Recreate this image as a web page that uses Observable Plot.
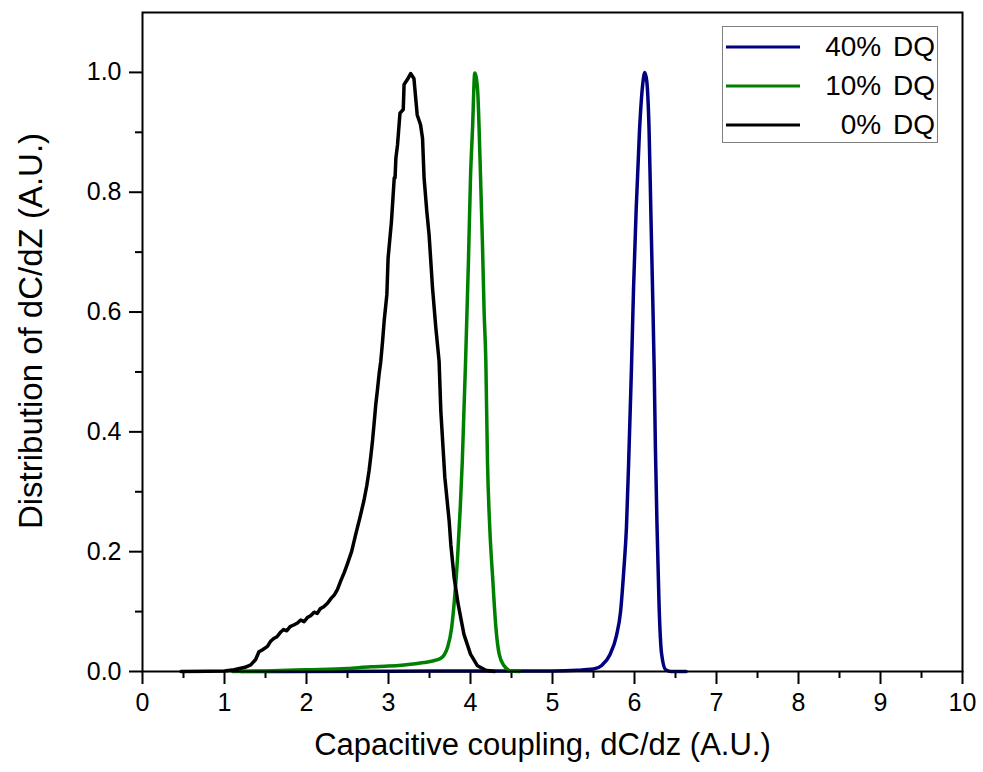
<!DOCTYPE html>
<html>
<head>
<meta charset="utf-8">
<script src="https://cdn.jsdelivr.net/npm/d3@7"></script>
<script src="https://cdn.jsdelivr.net/npm/@observablehq/plot@0.6"></script>
<style>
  html, body { margin: 0; padding: 0; background: #fff; }
  #wrap { position: relative; width: 983px; height: 772px; font-family: Arial, "Liberation Sans", sans-serif; }
  #wrap svg g[aria-label$="tick"] path { stroke-width: 2px; }
  #wrap svg g[aria-label="frame"] rect, #wrap svg rect[aria-label="frame"] { stroke-width: 2px; }
  #legend { position: absolute; left: 722px; top: 26px; width: 216px; height: 117px; border: 1px solid #808080; box-sizing: border-box; background: #fff; }
  .row { position: absolute; left: 3px; right: 2px; height: 32px; display: flex; align-items: center; justify-content: space-between; font-size: 28px; word-spacing: 4px; color: #000; }
  .row svg { display: block; }
</style>
</head>
<body>
<div id="wrap"></div>
<script>
// ---- data ----
const seriesNames = ["40% DQ", "10% DQ", "0% DQ"];
const seriesColors = ["#000080", "#008000", "#000000"];

const blueX = [1.2, 3.0, 4.5, 5.0, 5.3, 5.5, 5.6, 5.7, 5.78, 5.83, 5.87, 5.902, 5.934, 5.963, 5.988, 6.02, 6.061, 6.1, 6.126, 6.15, 6.178, 6.199, 6.22, 6.24, 6.255, 6.275, 6.30, 6.33, 6.38, 6.45, 6.63];
const blueY = [0, 0.0005, 0.001, 0.001, 0.002, 0.004, 0.01, 0.028, 0.06, 0.1, 0.17, 0.241, 0.373, 0.506, 0.638, 0.77, 0.903, 0.98, 1.0, 0.985, 0.903, 0.77, 0.638, 0.506, 0.373, 0.241, 0.109, 0.03, 0.003, 0, 0];

const greenX = [1.1, 1.5, 2.0, 2.5, 2.784, 3.0, 3.19, 3.434, 3.55, 3.638, 3.68, 3.72, 3.77, 3.81, 3.84, 3.873, 3.90, 3.92, 3.94, 3.975, 4.0, 4.025, 4.052, 4.085, 4.117, 4.146, 4.166, 4.187, 4.207, 4.235, 4.27, 4.31, 4.35, 4.41, 4.49, 4.6];
const greenY = [0, 0.001, 0.003, 0.005, 0.008, 0.009, 0.011, 0.015, 0.018, 0.022, 0.028, 0.04, 0.073, 0.129, 0.185, 0.268, 0.351, 0.435, 0.518, 0.685, 0.824, 0.907, 0.999, 0.974, 0.852, 0.713, 0.601, 0.518, 0.351, 0.24, 0.157, 0.073, 0.029, 0.0095, 0.001, 0];

const blackX = [0.47, 0.8, 1.0, 1.117, 1.25, 1.32, 1.38, 1.42, 1.46, 1.524, 1.56, 1.6, 1.64, 1.687, 1.72, 1.76, 1.8, 1.85, 1.89, 1.93, 1.97, 2.01, 2.05, 2.093, 2.13, 2.17, 2.21, 2.256, 2.3, 2.34, 2.378, 2.42, 2.46, 2.5, 2.55, 2.6, 2.65, 2.7, 2.735, 2.763, 2.785, 2.805, 2.825, 2.845, 2.865, 2.885, 2.906, 2.927, 2.947, 2.98, 2.995, 3.036, 3.07, 3.08, 3.09, 3.11, 3.14, 3.18, 3.19, 3.23, 3.27, 3.31, 3.35, 3.39, 3.415, 3.434, 3.467, 3.495, 3.537, 3.577, 3.617, 3.638, 3.687, 3.74, 3.76, 3.8, 3.85, 3.92, 4.0, 4.085, 4.187, 4.29];
const blackY = [0, 0.0005, 0.001, 0.003, 0.007, 0.011, 0.02, 0.033, 0.036, 0.042, 0.05, 0.055, 0.058, 0.066, 0.07, 0.068, 0.075, 0.078, 0.081, 0.086, 0.083, 0.09, 0.093, 0.099, 0.097, 0.105, 0.108, 0.114, 0.122, 0.128, 0.137, 0.152, 0.165, 0.18, 0.2, 0.229, 0.256, 0.285, 0.31, 0.335, 0.36, 0.385, 0.415, 0.446, 0.47, 0.496, 0.518, 0.55, 0.585, 0.629, 0.69, 0.751, 0.824, 0.824, 0.857, 0.879, 0.932, 0.938, 0.98, 0.988, 0.998, 0.99, 0.929, 0.913, 0.89, 0.824, 0.768, 0.729, 0.64, 0.574, 0.518, 0.435, 0.324, 0.251, 0.212, 0.157, 0.112, 0.062, 0.029, 0.0095, 0.002, 0];

const xTicks = [0, 1, 2, 3, 4, 5, 6, 7, 8, 9, 10];
const xMinor = [0.5, 1.5, 2.5, 3.5, 4.5, 5.5, 6.5, 7.5, 8.5, 9.5];
const yTicks = [0, 0.2, 0.4, 0.6, 0.8, 1.0];
const yMinor = [0.1, 0.3, 0.5, 0.7, 0.9];
const xLabel = "Capacitive coupling, dC/dz (A.U.)";
const yLabel = "Distribution of dC/dZ (A.U.)";

// ---- build tables ----
const toRows = (xs, ys, name) => xs.map((x, i) => ({x, y: ys[i], series: name}));
const black = toRows(blackX, blackY, seriesNames[2]);
const green = toRows(greenX, greenY, seriesNames[1]);
const blue = toRows(blueX, blueY, seriesNames[0]);

const font = 'Arial, "Liberation Sans", sans-serif';

const chart = Plot.plot({
  width: 983,
  height: 772,
  marginLeft: 142,
  marginRight: 21,
  marginTop: 12,
  marginBottom: 101,
  style: {fontFamily: font, background: "#fff", color: "#000"},
  x: {domain: [0, 10]},
  y: {domain: [0, 1.1]},
  marks: [
    Plot.axisX({ticks: xMinor, tickSize: 7, strokeWidth: 2, text: null, label: null}),
    Plot.axisX({ticks: xTicks, tickSize: 13, strokeWidth: 2, tickPadding: 9, fontSize: 25, tickFormat: d3.format("d"), label: null}),
    Plot.axisY({ticks: yMinor, tickSize: 7, strokeWidth: 2, text: null, label: null}),
    Plot.axisY({ticks: yTicks, tickSize: 13, strokeWidth: 2, tickPadding: 8, fontSize: 25, tickFormat: d3.format(".1f"), label: null}),
    Plot.line(blue, {x: "x", y: "y", stroke: seriesColors[0], strokeWidth: 3.5, curve: "monotone-x"}),
    Plot.line(green, {x: "x", y: "y", stroke: seriesColors[1], strokeWidth: 3.5, curve: "monotone-x"}),
    Plot.line(black, {x: "x", y: "y", stroke: seriesColors[2], strokeWidth: 3.5}),
    Plot.frame({stroke: "#000", strokeWidth: 2}),
    Plot.text([xLabel], {frameAnchor: "bottom", textAnchor: "middle", dx: -10, dy: 83, fontSize: 31, fill: "#000"}),
    Plot.text([yLabel], {frameAnchor: "left", textAnchor: "middle", rotate: -90, dx: -111, dy: -11, fontSize: 33, fill: "#000"})
  ]
});

const wrap = document.getElementById("wrap");
wrap.appendChild(chart);

// legend (inside the frame, top right)
const legend = document.createElement("div");
legend.id = "legend";
const rowTops = [4, 43, 82];
seriesNames.forEach((name, i) => {
  const row = document.createElement("div");
  row.className = "row";
  row.style.top = rowTops[i] + "px";
  row.innerHTML = `<svg width="74" height="6"><line x1="0" y1="3" x2="74" y2="3" stroke="${seriesColors[i]}" stroke-width="3"/></svg><span>${name}</span>`;
  legend.appendChild(row);
});
wrap.appendChild(legend);
</script>
</body>
</html>
